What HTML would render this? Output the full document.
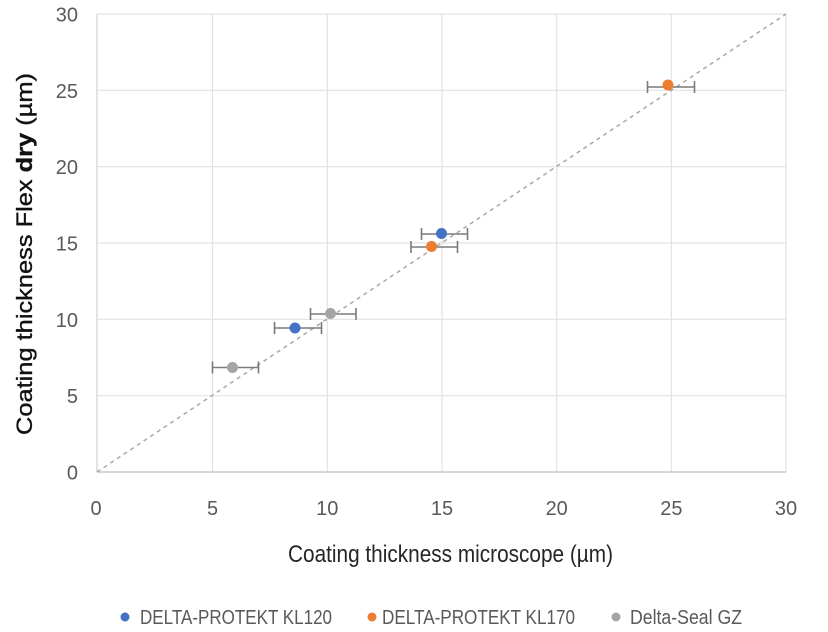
<!DOCTYPE html>
<html>
<head>
<meta charset="utf-8">
<style>
  html,body{margin:0;padding:0;background:#fff;}
  svg{display:block;}
  text{font-family:"Liberation Sans", Arial, sans-serif;}
</style>
</head>
<body>
<svg width="828" height="632" viewBox="0 0 828 632" xmlns="http://www.w3.org/2000/svg">
  <rect width="828" height="632" fill="#fff"/>
  <!-- gridlines -->
  <g stroke="#e3e3e3" stroke-width="1.2" fill="none">
    <line x1="97" y1="14" x2="786" y2="14"/>
    <line x1="97" y1="90.3" x2="786" y2="90.3"/>
    <line x1="97" y1="166.7" x2="786" y2="166.7"/>
    <line x1="97" y1="243" x2="786" y2="243"/>
    <line x1="97" y1="319.3" x2="786" y2="319.3"/>
    <line x1="97" y1="395.7" x2="786" y2="395.7"/>
    <line x1="212.5" y1="14" x2="212.5" y2="472"/>
    <line x1="327.3" y1="14" x2="327.3" y2="472"/>
    <line x1="442" y1="14" x2="442" y2="472"/>
    <line x1="556.7" y1="14" x2="556.7" y2="472"/>
    <line x1="671.4" y1="14" x2="671.4" y2="472"/>
    <line x1="786" y1="14" x2="786" y2="472"/>
  </g>
  <!-- axes -->
  <line x1="97" y1="14" x2="97" y2="472" stroke="#d4d4d4" stroke-width="1.3"/>
  <line x1="97" y1="472" x2="786" y2="472" stroke="#c8c8c8" stroke-width="1.6"/>

  <!-- diagonal dashed -->
  <line x1="97" y1="472" x2="786" y2="14" stroke="#a8a8a8" stroke-width="1.5" stroke-dasharray="4,4"/>

  <!-- error bars -->
  <g stroke="#7a7a7a" stroke-width="1.6" fill="none">
    <line x1="212.5" y1="367.5" x2="258.5" y2="367.5"/>
    <line x1="212.5" y1="361.5" x2="212.5" y2="373.5"/>
    <line x1="258.5" y1="361.5" x2="258.5" y2="373.5"/>
    <line x1="274.5" y1="328" x2="321.5" y2="328"/>
    <line x1="274.5" y1="322" x2="274.5" y2="334"/>
    <line x1="321.5" y1="322" x2="321.5" y2="334"/>
    <line x1="310.5" y1="314" x2="356" y2="314"/>
    <line x1="310.5" y1="308" x2="310.5" y2="320"/>
    <line x1="356" y1="308" x2="356" y2="320"/>
    <line x1="421.5" y1="234" x2="467.5" y2="234"/>
    <line x1="421.5" y1="228" x2="421.5" y2="240"/>
    <line x1="467.5" y1="228" x2="467.5" y2="240"/>
    <line x1="411" y1="247" x2="457.5" y2="247"/>
    <line x1="411" y1="241" x2="411" y2="253"/>
    <line x1="457.5" y1="241" x2="457.5" y2="253"/>
    <line x1="647.5" y1="87" x2="694.5" y2="87"/>
    <line x1="647.5" y1="81" x2="647.5" y2="93"/>
    <line x1="694.5" y1="81" x2="694.5" y2="93"/>
  </g>

  <!-- markers -->
  <circle cx="232.5" cy="367.5" r="5.5" fill="#A5A5A5"/>
  <circle cx="330.5" cy="313.5" r="5.5" fill="#A5A5A5"/>
  <circle cx="295" cy="328" r="5.5" fill="#4472C4"/>
  <circle cx="441.5" cy="233.5" r="5.5" fill="#4472C4"/>
  <circle cx="431.5" cy="246.5" r="5.5" fill="#ED7D31"/>
  <circle cx="668" cy="85" r="5.5" fill="#ED7D31"/>

  <!-- y tick labels -->
  <g fill="#595959" font-size="20" text-anchor="end">
    <text x="78" y="21.5">30</text>
    <text x="78" y="97.8">25</text>
    <text x="78" y="174.2">20</text>
    <text x="78" y="250.5">15</text>
    <text x="78" y="326.8">10</text>
    <text x="78" y="403.2">5</text>
    <text x="78" y="479.5">0</text>
  </g>
  <!-- x tick labels -->
  <g fill="#595959" font-size="20" text-anchor="middle">
    <text x="96" y="515">0</text>
    <text x="212.5" y="515">5</text>
    <text x="327.3" y="515">10</text>
    <text x="442" y="515">15</text>
    <text x="556.7" y="515">20</text>
    <text x="671.4" y="515">25</text>
    <text x="786" y="515">30</text>
  </g>

  <!-- x title -->
  <text transform="translate(288,562) scale(1,1.13)" x="0" y="0" font-size="21" fill="#262626" textLength="325" lengthAdjust="spacingAndGlyphs">Coating thickness microscope (µm)</text>

  <!-- y title -->
  <text transform="translate(32,435) rotate(-90)" x="0" y="0" font-size="22" fill="#111" stroke="#111" stroke-width="0.35" textLength="362" lengthAdjust="spacingAndGlyphs">Coating thickness Flex <tspan font-weight="bold">dry</tspan> (µm)</text>

  <!-- legend -->
  <circle cx="125" cy="617" r="4.5" fill="#4472C4"/>
  <text transform="translate(140,624) scale(1,1.18)" x="0" y="0" font-size="17" fill="#595959" textLength="192" lengthAdjust="spacingAndGlyphs">DELTA-PROTEKT KL120</text>
  <circle cx="372" cy="617" r="4.5" fill="#ED7D31"/>
  <text transform="translate(382,624) scale(1,1.18)" x="0" y="0" font-size="17" fill="#595959" textLength="193" lengthAdjust="spacingAndGlyphs">DELTA-PROTEKT KL170</text>
  <circle cx="616" cy="617" r="4.5" fill="#A5A5A5"/>
  <text transform="translate(630,624) scale(1,1.18)" x="0" y="0" font-size="17" fill="#595959" textLength="112" lengthAdjust="spacingAndGlyphs">Delta-Seal GZ</text>
</svg>
</body>
</html>
